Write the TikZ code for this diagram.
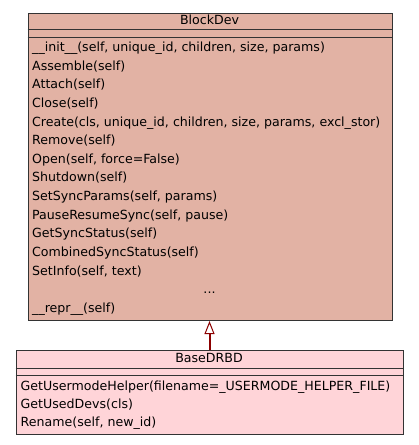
\documentclass[tikz,border=0pt]{standalone}
\usepackage{fontspec}
\setmainfont{DejaVu Sans}
\usetikzlibrary{arrows.meta}

\definecolor{blockfill}{HTML}{E2B2A4}
\definecolor{drbdfill}{HTML}{FFD4D8}
\definecolor{edgegray}{HTML}{333333}
\definecolor{inheritred}{HTML}{8B0000}

\begin{document}
\begin{tikzpicture}[x=1pt,y=-1pt,font=\fontsize{12.6}{14}\selectfont,
  classbox/.style={draw=edgegray,line width=1pt,anchor=north west,inner sep=0pt},
  member/.style={anchor=base west,inner sep=0pt},
  title/.style={anchor=base,inner sep=0pt}]
				\useasboundingbox (0,0) rectangle (419,445);
				
				% Draw the BlockDev class box
				\node[classbox,fill=blockfill,minimum width=364,minimum height=307] (blockdev) at (27.5,13) {};
				\draw[edgegray,line width=1pt] (27.5,29.5) -- (391.5,29.5);
				\draw[edgegray,line width=1pt] (27.5,37) -- (391.5,37);
				\node[title] (blockname) at (209.5,24) {BlockDev};
				
				% Methods of BlockDev
				\node[member] (init) at (32,51.6) {\_\_init\_\_(self, unique\_id, children, size, params)};
				\node[member] (assemble) at (32,70.2) {Assemble(self)};
				\node[member] (attach) at (32,88.8) {Attach(self)};
				\node[member] (close) at (32,107.5) {Close(self)};
				\node[member] (create) at (32,126.1) {Create(cls, unique\_id, children, size, params, excl\_stor)};
				\node[member] (remove) at (32,144.7) {Remove(self)};
				\node[member] (open) at (32,163.3) {Open(self, force=False)};
				\node[member] (shutdown) at (32,181.9) {Shutdown(self)};
				\node[member] (setsync) at (32,200.6) {SetSyncParams(self, params)};
				\node[member] (pausesync) at (32,219.2) {PauseResumeSync(self, pause)};
				\node[member] (getsync) at (32,237.8) {GetSyncStatus(self)};
				\node[member] (combsync) at (32,256.4) {CombinedSyncStatus(self)};
				\node[member] (setinfo) at (32,275.0) {SetInfo(self, text)};
				\node[title] (more) at (209.5,293.6) {...};
				\node[member] (repr) at (32,312.2) {\_\_repr\_\_(self)};
				
				% Draw the BaseDRBD class box
				\node[classbox,fill=drbdfill,minimum width=387,minimum height=84] (basedrbd) at (15.5,350) {};
				\draw[edgegray,line width=1pt] (15.5,368) -- (402.5,368);
				\draw[edgegray,line width=1pt] (15.5,375.5) -- (402.5,375.5);
				\node[title] (drbdname) at (209,362.7) {BaseDRBD};
				
				% Methods of BaseDRBD
				\node[member] (usermode) at (20.5,390) {GetUsermodeHelper(filename=\_USERMODE\_HELPER\_FILE)};
				\node[member] (useddevs) at (20.5,408.2) {GetUsedDevs(cls)};
				\node[member] (rename) at (20.5,426.4) {Rename(self, new\_id)};
				
				% Inheritance arrow
				\draw[inheritred,line width=2pt,-{Triangle[fill=white,line width=1pt,length=13pt,width=10pt]}] (basedrbd.north -| blockname) -- (blockdev.south -| blockname);
			\end{tikzpicture}
\end{document}
